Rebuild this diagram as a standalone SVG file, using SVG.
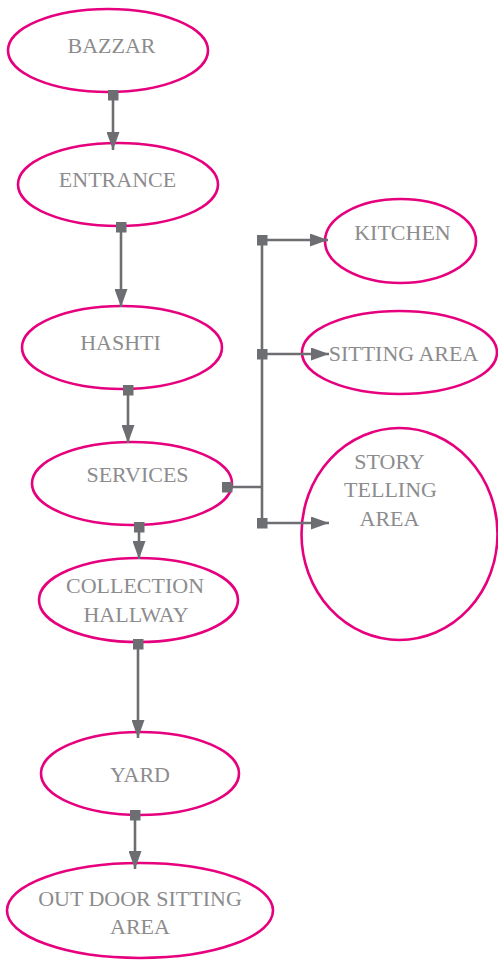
<svg xmlns="http://www.w3.org/2000/svg" width="498" height="960" viewBox="0 0 498 960">
  <style>
    .node ellipse { fill: #ffffff; stroke: #e6007e; stroke-width: 2.6; }
    .node text { font-family: "Liberation Serif", "Times New Roman", serif; font-size: 22px; fill: #8c8c8e; text-anchor: middle; }
    .edge { fill: none; stroke: #6d6e71; stroke-width: 2.6; }
    .arrow { marker-start: url(#sq); marker-end: url(#head); }
  </style>
  <defs>
    <marker id="head" viewBox="0 0 18 13" refX="18" refY="6.5" markerWidth="18" markerHeight="13" markerUnits="userSpaceOnUse" orient="auto">
      <path d="M0,0 L18,6.5 L0,13 Z" fill="#6d6e71"/>
    </marker>
    <marker id="sq" viewBox="0 0 11 11" refX="5.5" refY="5.5" markerWidth="11" markerHeight="11" markerUnits="userSpaceOnUse">
      <rect width="11" height="11" fill="#6d6e71"/>
    </marker>
  </defs>

  <g id="bazzar" class="node">
    <ellipse cx="108" cy="50.5" rx="100" ry="41.5"/>
    <text x="111.5" y="53">BAZZAR</text>
  </g>
  <g id="entrance" class="node">
    <ellipse cx="118" cy="184.5" rx="100" ry="41.5"/>
    <text x="117.5" y="187">ENTRANCE</text>
  </g>
  <g id="hashti" class="node">
    <ellipse cx="122" cy="347.5" rx="100" ry="41.5"/>
    <text x="120.5" y="350">HASHTI</text>
  </g>
  <g id="services" class="node">
    <ellipse cx="132" cy="483.5" rx="100" ry="41.5"/>
    <text x="137.5" y="482">SERVICES</text>
  </g>
  <g id="collection-hallway" class="node">
    <ellipse cx="138.5" cy="600" rx="99.5" ry="42"/>
    <text x="135" y="593">COLLECTION</text>
    <text x="136" y="622">HALLWAY</text>
  </g>
  <g id="yard" class="node">
    <ellipse cx="140" cy="773.5" rx="99" ry="41.5"/>
    <text x="140" y="782">YARD</text>
  </g>
  <g id="outdoor-sitting-area" class="node">
    <ellipse cx="140" cy="910.5" rx="133" ry="47.5"/>
    <text x="140" y="906">OUT DOOR SITTING</text>
    <text x="140" y="934">AREA</text>
  </g>
  <g id="kitchen" class="node">
    <ellipse cx="400.5" cy="241" rx="75.5" ry="42"/>
    <text x="402.5" y="240">KITCHEN</text>
  </g>
  <g id="sitting-area" class="node">
    <ellipse cx="399.5" cy="352.5" rx="97.5" ry="41.5"/>
    <text x="403.5" y="361">SITTING AREA</text>
  </g>
  <g id="story-telling-area" class="node">
    <ellipse cx="399.5" cy="534" rx="98" ry="106"/>
    <text x="389.5" y="469">STORY</text>
    <text x="390.5" y="497">TELLING</text>
    <text x="389.5" y="526">AREA</text>
  </g>

  <!-- connectors, drawn over the nodes -->
  <g id="connectors">
    <path class="edge arrow" d="M113,95 L113,150"/>
    <path class="edge arrow" d="M121,227 L121,307"/>
    <path class="edge arrow" d="M128,390 L128,443"/>
    <path class="edge arrow" d="M139,527 L139,559"/>
    <path class="edge arrow" d="M138,644 L138,738"/>
    <path class="edge arrow" d="M135,815 L135,869"/>
    <!-- services branch -->
    <path class="edge" d="M227,487 L262,487" marker-start="url(#sq)"/>
    <path class="edge" d="M262,240 L262,523"/>
    <path class="edge arrow" d="M262,240 L328,240"/>
    <path class="edge arrow" d="M262,354 L329,354"/>
    <path class="edge arrow" d="M262,523 L329,523"/>
  </g>
</svg>
